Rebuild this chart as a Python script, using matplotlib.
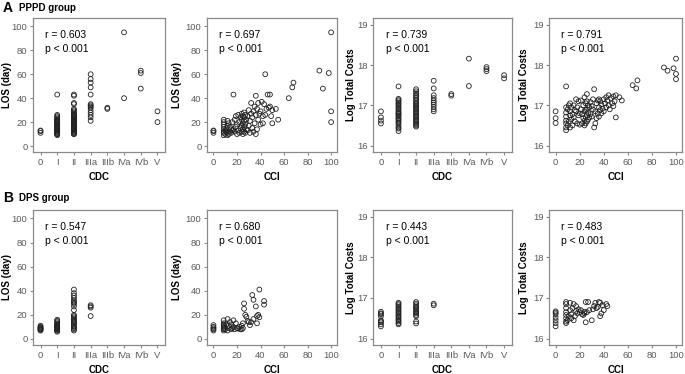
import matplotlib
matplotlib.use("Agg")
import matplotlib.pyplot as plt

plt.rcParams["font.family"] = ["Liberation Sans", "DejaVu Sans"]

cdc_labels = ["0", "I", "II", "IIIa", "IIIb", "IVa", "IVb", "V"]

# --- PPPD group: CDC vs LOS (values per CDC grade) ---
pppd_cdc_los = [
    [11, 12.5, 13],
    [9, 10, 10, 11, 11, 12, 12, 13, 13, 14, 14, 15, 15, 16, 16, 17, 17, 18, 18,
     19, 19, 20, 20, 21, 21, 22, 22, 23, 24, 25, 26, 43],
    [10, 10, 11, 11, 12, 12, 13, 13, 14, 14, 15, 15, 16, 16, 17, 17, 18, 18, 19,
     19, 20, 20, 21, 21, 22, 22, 23, 23, 24, 24, 25, 25, 26, 26, 27, 28, 29, 30,
     31, 35, 36, 42, 43],
    [21, 24, 26, 28, 30, 32, 33, 34, 35, 43, 49, 53, 56, 60],
    [31, 32],
    [40, 95],
    [48, 61, 63],
    [20, 29],
]

# --- PPPD group: CDC vs log total costs ---
pppd_cdc_cost = [
    [16.55, 16.62, 16.7, 16.85],
    [16.36, 16.42, 16.45, 16.5, 16.55, 16.58, 16.62, 16.65, 16.68, 16.72, 16.75,
     16.78, 16.8, 16.83, 16.86, 16.9, 16.93, 16.96, 17.0, 17.03, 17.06, 17.1,
     17.13, 17.16, 17.47],
    [16.47, 16.5, 16.53, 16.56, 16.6, 16.63, 16.66, 16.7, 16.73, 16.76, 16.8,
     16.83, 16.86, 16.9, 16.93, 16.96, 17.0, 17.03, 17.06, 17.1, 17.14, 17.18,
     17.22, 17.26, 17.3, 17.35, 17.4],
    [16.85, 16.9, 16.96, 17.02, 17.07, 17.12, 17.18, 17.25, 17.42, 17.61],
    [17.24, 17.28],
    [17.48, 18.16],
    [17.85, 17.9, 17.95],
    [17.67, 17.75],
]

# --- PPPD group: CCI scores (shared by the LOS and cost panels) ---
pppd_cci = [
    0, 0, 0,
    8.7, 8.7, 8.7, 8.7, 8.7, 8.7, 8.7, 8.7,
    10, 10, 11, 11, 12, 12, 12, 12,
    13, 13, 14, 14, 15, 15, 16, 16,
    17, 17, 18, 18, 19, 19, 20, 20,
    21, 21, 22, 22, 23, 23, 24, 24,
    24, 24, 25, 25, 25, 25, 26, 26,
    26, 26, 26, 27, 27, 27, 28, 28,
    29, 29, 30, 30, 31, 31, 32, 32,
    33, 33, 34, 34, 35, 35, 36, 36,
    36, 37, 37, 38, 38, 39, 40, 40,
    41, 42, 42, 43, 44, 44, 45, 46,
    47, 48, 48, 49, 50, 50, 53, 55,
    64, 67, 68, 90, 93, 98, 100, 100, 100,
]
pppd_cci_los = [
    11, 12.5, 13,
    9, 11, 12, 14, 16, 18, 20, 22,
    10, 13, 12, 15, 9, 11, 17, 21,
    10, 19, 12, 16, 14, 11, 20, 13,
    43, 14, 12, 22, 16, 25, 10, 18,
    13, 26, 20, 11, 24, 15, 12, 27,
    17, 22, 10, 14, 19, 25, 12, 16,
    21, 24, 28, 11, 18, 26, 14, 22,
    13, 25, 17, 30, 11, 21, 27, 36,
    15, 24, 12, 29, 19, 33, 26, 42,
    10, 14, 31, 22, 36, 27, 18, 29,
    37, 25, 19, 35, 60, 26, 31, 43,
    32, 43, 33, 25, 19, 30, 31, 22,
    40, 49, 53, 63, 48, 61, 95, 29, 20,
]
pppd_cci_cost = [
    16.56, 16.68, 16.85,
    16.38, 16.45, 16.55, 16.62, 16.72, 16.82, 16.95, 17.47,
    16.5, 16.9, 16.6, 17.0, 16.45, 16.75, 16.85, 17.05,
    16.65, 16.95, 16.5, 16.78, 16.7, 17.0, 16.6, 16.88,
    16.85, 17.15, 16.55, 16.95, 16.75, 17.1, 16.52, 16.8,
    16.9, 17.12, 16.55, 16.78, 16.68, 17.0, 16.5, 16.85,
    16.62, 17.2, 16.55, 16.7, 16.88, 17.05, 16.6, 17.28,
    16.75, 16.9, 17.1, 16.65, 16.82, 17.0, 16.7, 16.95,
    16.78, 17.08, 16.72, 16.98, 16.9, 17.15, 16.45, 17.4,
    16.55, 16.85, 16.68, 17.05, 16.8, 17.12, 16.95, 17.15,
    16.72, 16.88, 17.1, 16.8, 17.02, 16.92, 17.15, 16.85,
    17.05, 16.95, 17.2, 17.12, 17.0, 17.25, 16.9, 17.18,
    17.05, 17.22, 16.98, 17.1, 16.7, 17.25, 17.2, 17.12,
    17.5, 17.42, 17.62, 17.94, 17.86, 17.92, 18.16, 17.78, 17.65,
]

# --- DPS group: CDC vs LOS / costs ---
dps_cdc_los = [
    [7, 7.5, 8, 8.5, 9, 9.5, 10, 11],
    [6, 7, 7, 8, 8, 9, 9, 10, 10, 11, 11, 12, 12, 13, 14, 15, 16],
    [7, 8, 9, 10, 11, 12, 13, 14, 15, 16, 17, 18, 19, 20, 24, 27, 29, 30, 31,
     32, 34, 36, 38, 41],
    [19, 26, 27, 28],
    [], [], [], [],
]
dps_cdc_cost = [
    [16.3, 16.35, 16.4, 16.42, 16.45, 16.55, 16.6, 16.62, 16.66],
    [16.35, 16.38, 16.42, 16.45, 16.48, 16.52, 16.55, 16.58, 16.62, 16.65, 16.68,
     16.72, 16.75, 16.78, 16.82, 16.85, 16.88],
    [16.37, 16.42, 16.55, 16.58, 16.62, 16.65, 16.68, 16.72, 16.75, 16.78, 16.82,
     16.86, 16.9],
    [16.82, 16.86],
    [], [], [], [],
]

# --- DPS group: CCI vs LOS ---
dps_cci_a = [
    0, 0, 0, 0, 0,
    8.7, 8.7, 8.7, 8.7, 8.7, 8.7, 8.7, 8.7,
    10, 11, 12, 12, 13, 13, 14, 15,
    15, 16, 17, 17, 18, 19, 20, 21,
    22, 23, 24, 24, 25, 25, 26, 26,
    27, 28, 29, 30, 31, 32, 33, 34,
    34, 36, 37, 37, 38, 39, 39, 43, 43,
]
dps_cci_los = [
    7, 8, 9, 10, 11.5,
    7, 8, 9, 10, 11, 12, 13, 15.5,
    8, 12, 7, 16.5, 9, 11, 14, 8,
    12, 9, 15.5, 10, 8, 13, 9, 8.5,
    10, 8, 11, 8, 13, 9, 25, 29.5,
    20, 18.5, 15, 14, 11.5, 14, 36.5, 32.5,
    16.5, 27, 13, 19, 20, 41, 18, 31.5, 28.5,
]

# --- DPS group: CCI vs costs ---
dps_cci_b = [
    0, 0, 0, 0, 0, 0, 0,
    8.7, 8.7, 8.7, 8.7, 8.7, 8.7, 8.7, 8.7,
    10, 11, 12, 12, 13, 13, 14, 15,
    15, 16, 17, 17, 18, 19, 20, 21,
    22, 23, 24, 24, 25, 25, 26, 27,
    28, 30, 31, 32, 33, 34, 35, 36,
    37, 37, 38, 39, 40, 42, 43,
]
dps_cci_cost = [
    16.3, 16.38, 16.45, 16.52, 16.6, 16.64, 16.67,
    16.38, 16.42, 16.5, 16.58, 16.65, 16.75, 16.85, 16.9,
    16.45, 16.55, 16.7, 16.88, 16.5, 16.6, 16.75, 16.45,
    16.85, 16.55, 16.68, 16.8, 16.62, 16.72, 16.65, 16.7,
    16.6, 16.58, 16.62, 16.66, 16.9, 16.4, 16.65, 16.9,
    16.7, 16.45, 16.72, 16.8, 16.88, 16.75, 16.78, 16.9,
    16.55, 16.88, 16.62, 16.82, 16.7, 16.85, 16.8,
]

r_values = [["0.603", "0.697", "0.739", "0.791"],
            ["0.547", "0.680", "0.443", "0.483"]]
group_names = [("A", "PPPD group"), ("B", "DPS group")]

GREY = "#8a8a8a"
TICK_GREY = "#5a5a5a"

fig = plt.figure(figsize=(6.85, 3.74), dpi=100)

col_lefts = [33, 207, 373, 549]
col_widths = [132, 130, 139, 133]
row_tops = [18, 210]
row_heights = [134, 135]
# x position (axes fraction) of the y label's right edge, per column
ylabel_x = [-0.16, -0.19, -0.122, -0.15]


def make_ax(row, col):
    left = col_lefts[col] / 685
    bottom = 1 - (row_tops[row] + row_heights[row]) / 374
    ax = fig.add_axes([left, bottom, col_widths[col] / 685, row_heights[row] / 374])
    for sp in ax.spines.values():
        sp.set_color(GREY)
        sp.set_linewidth(0.9)
    ax.tick_params(direction="out", length=2.5, width=0.8, color=GREY,
                   labelcolor=TICK_GREY, labelsize=6.8, pad=1.5)
    return ax


def scatter(ax, x, y):
    ax.scatter(x, y, s=12, facecolors="none", edgecolors="#222222",
               linewidths=0.6, zorder=3)


def cdc_panel(ax, values):
    xs, ys = [], []
    for i, vals in enumerate(values):
        xs += [i] * len(vals)
        ys += vals
    scatter(ax, xs, ys)
    ax.set_xlim(-0.45, 7.45)
    ax.set_xticks(range(len(cdc_labels)))
    ax.set_xticklabels(cdc_labels)
    ax.set_xlabel("CDC", fontsize=7, fontweight="bold")
    ax.xaxis.set_label_coords(0.5, -0.15)


def cci_panel(ax, x, y):
    scatter(ax, x, y)
    ax.set_xlim(-5.5, 105)
    ax.set_xticks([0, 20, 40, 60, 80, 100])
    ax.set_xlabel("CCI", fontsize=7, fontweight="bold")
    ax.xaxis.set_label_coords(0.5, -0.15)


def los_axis(ax, col):
    ax.set_ylim(-5, 107)
    ax.set_yticks([0, 20, 40, 60, 80, 100])
    ax.set_ylabel("LOS (day)", fontsize=7, fontweight="bold")
    ax.yaxis.set_label_coords(ylabel_x[col], 0.5)


def cost_axis(ax, col):
    ax.set_ylim(15.84, 19.17)
    ax.set_yticks([16, 17, 18, 19])
    ax.set_ylabel("Log Total Costs", fontsize=7, fontweight="bold")
    ax.yaxis.set_label_coords(ylabel_x[col], 0.5)


data = [
    (pppd_cdc_los, (pppd_cci, pppd_cci_los), pppd_cdc_cost, (pppd_cci, pppd_cci_cost)),
    (dps_cdc_los, (dps_cci_a, dps_cci_los), dps_cdc_cost, (dps_cci_b, dps_cci_cost)),
]

for row in range(2):
    cdc_los, cci_los, cdc_cost, cci_cost = data[row]
    axes = [make_ax(row, c) for c in range(4)]
    cdc_panel(axes[0], cdc_los)
    los_axis(axes[0], 0)
    cci_panel(axes[1], *cci_los)
    los_axis(axes[1], 1)
    cdc_panel(axes[2], cdc_cost)
    cost_axis(axes[2], 2)
    cci_panel(axes[3], *cci_cost)
    cost_axis(axes[3], 3)
    for c, ax in enumerate(axes):
        ax.text(0.09, 0.875, "r = " + r_values[row][c], transform=ax.transAxes,
                fontsize=7.5, va="center", ha="left")
        ax.text(0.09, 0.77, "p < 0.001", transform=ax.transAxes,
                fontsize=7.5, va="center", ha="left")

    letter, name = group_names[row]
    ty = 1 - (8 if row == 0 else 198) / 374
    fig.text(3 / 685, ty, letter, fontsize=10, fontweight="bold", va="center")
    fig.text(19 / 685, ty, name, fontsize=7, fontweight="bold", va="center")

fig.savefig("out.png", dpi=100)
